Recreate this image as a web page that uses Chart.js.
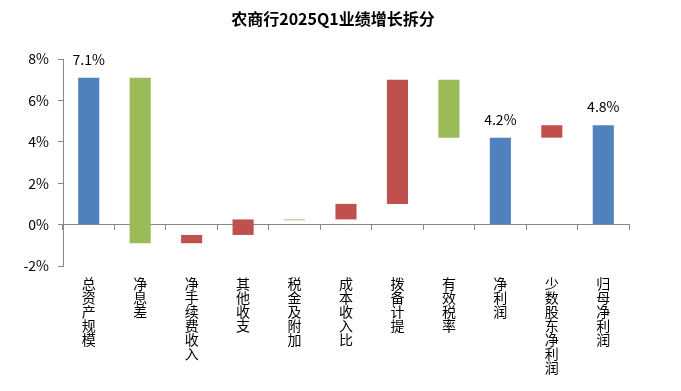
<!DOCTYPE html>
<html>
<head>
<meta charset="utf-8">
<script src="https://cdn.jsdelivr.net/npm/chart.js"></script>
<style>
  html, body { margin: 0; padding: 0; background: #fff; }
  #wrap { width: 681px; height: 391px; }
</style>
</head>
<body>
<div id="wrap"><canvas id="myChart"></canvas></div>
<script>
const chartTitle = '农商行2025Q1业绩增长拆分';
const categories = ['总资产规模', '净息差', '净手续费收入', '其他收支', '税金及附加', '成本收入比', '拨备计提', '有效税率', '净利润', '少数股东净利润', '归母净利润'];
// floating bars: bottom and top of each bar, in %
const barStart = [0, -0.9, -0.9, -0.5, 0.21, 0.25, 1.0, 4.2, 0, 4.2, 0];
const barEnd = [7.1, 7.1, -0.5, 0.25, 0.25, 1.0, 7.0, 7.0, 4.2, 4.8, 4.8];
const barKind = ['total', 'up', 'down', 'down', 'up', 'down', 'down', 'up', 'total', 'down', 'total'];
const valueLabels = ['7.1%', '', '', '', '', '', '', '', '4.2%', '', '4.8%'];
const yMin = -2, yMax = 8, yStep = 2;

const kindColor = { total: '#4F81BD', up: '#9BBB59', down: '#C0504D' };
const FONT = '"Noto Sans CJK SC", "Noto Sans", sans-serif';

const titlePlugin = {
  id: 'plainTitle',
  afterDraw(chart) {
    const ctx = chart.ctx;
    ctx.save();
    ctx.font = 'bold 16px ' + FONT;
    ctx.fillStyle = '#000';
    ctx.textAlign = 'center';
    ctx.textBaseline = 'middle';
    ctx.fillText(chartTitle, 333, 19);
    ctx.restore();
  }
};

const valueLabelPlugin = {
  id: 'valueLabels',
  afterDatasetsDraw(chart) {
    const ctx = chart.ctx;
    const meta = chart.getDatasetMeta(0);
    ctx.save();
    ctx.font = '14px ' + FONT;
    ctx.fillStyle = '#000';
    ctx.textAlign = 'center';
    ctx.textBaseline = 'alphabetic';
    meta.data.forEach((bar, i) => {
      if (valueLabels[i]) ctx.fillText(valueLabels[i], bar.x, bar.y - 13);
    });
    ctx.restore();
  }
};

const data = {
  labels: categories.map(s => s.split('')),
  datasets: [{
    data: categories.map((c, i) => [barStart[i], barEnd[i]]),
    backgroundColor: barKind.map(k => kindColor[k]),
    borderWidth: 0,
    borderSkipped: false,
    categoryPercentage: 1,
    barPercentage: 0.41
  }]
};

const config = {
  type: 'bar',
  data: data,
  options: {
    responsive: true,
    maintainAspectRatio: false,
    animation: false,
    devicePixelRatio: 1,
    layout: { padding: { top: 59, left: 0, right: 52, bottom: 125 } },
    plugins: {
      legend: { display: false },
      title: { display: false },
      tooltip: { enabled: false }
    },
    scales: {
      x: {
        position: { y: 0 },
        offset: true,
        grid: { display: true, drawOnChartArea: false, drawTicks: true, tickLength: 5, color: '#888', offset: true },
        border: { display: true, color: '#888', width: 1 },
        ticks: {
          color: '#000',
          padding: 47,
          maxRotation: 0,
          minRotation: 0,
          autoSkip: false,
          font: { family: FONT, size: 14, lineHeight: 1.0 }
        },
        afterFit(scale) { scale.height = 0; }
      },
      y: {
        min: yMin,
        max: yMax,
        grid: { display: true, drawOnChartArea: false, drawTicks: true, tickLength: 5, color: '#888' },
        border: { display: true, color: '#888', width: 1 },
        ticks: {
          stepSize: yStep,
          color: '#000',
          padding: 9,
          font: { family: FONT, size: 14 },
          callback: v => v + '%'
        },
        afterFit(scale) { scale.width = 63; }
      }
    }
  },
  plugins: [titlePlugin, valueLabelPlugin]
};

const myChart = new Chart(document.getElementById('myChart'), config);
</script>
</body>
</html>
